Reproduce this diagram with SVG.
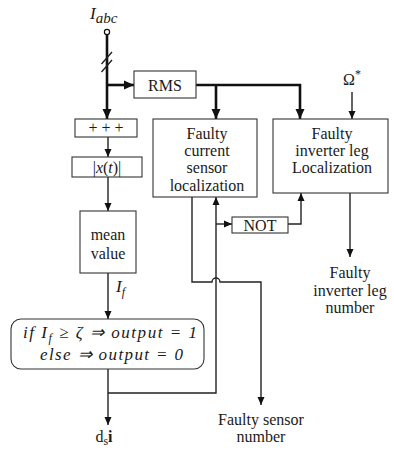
<svg xmlns="http://www.w3.org/2000/svg" width="394" height="452" viewBox="0 0 394 452">
<style>
  .box{fill:#fff;stroke:#333;stroke-width:1.1}
  .thin{fill:none;stroke:#222;stroke-width:1.4}
  .thick{fill:none;stroke:#111;stroke-width:2.6}
  .t{font-family:"Liberation Serif",serif;font-size:16px;fill:#1a1a1a;text-anchor:middle}
  .m{font-family:"Liberation Serif",serif;font-style:italic;font-size:17px;fill:#1a1a1a}
</style>
<defs>
  <marker id="a" markerUnits="userSpaceOnUse" markerWidth="8" markerHeight="8" refX="8" refY="4" orient="auto">
    <path d="M0,0.5 L8,4 L0,7.5 z" fill="#111"/>
  </marker>
  <marker id="A" markerUnits="userSpaceOnUse" markerWidth="10" markerHeight="10" refX="10" refY="5" orient="auto">
    <path d="M0,0.5 L10,5 L0,9.5 z" fill="#111"/>
  </marker>
</defs>

<g id="connectors">
  <line class="thick" x1="107" y1="34.5" x2="107" y2="119" marker-end="url(#A)"/>
  <path class="thin" d="M101.5,64 L112,52 M101.5,72 L112,60" stroke-width="1.3"/>
  <line class="thick" x1="107" y1="85" x2="134" y2="85" marker-end="url(#A)"/>
  <polyline class="thick" points="196,85 300,85 300,119" marker-end="url(#A)"/>
  <line class="thick" x1="216" y1="85" x2="216" y2="119" marker-end="url(#A)"/>
  <line class="thin" x1="352" y1="92" x2="352" y2="119" marker-end="url(#a)"/>
  <line class="thin" x1="108" y1="137" x2="108" y2="157" marker-end="url(#a)"/>
  <line class="thin" x1="108" y1="177" x2="108" y2="211" marker-end="url(#a)"/>
  <line class="thin" x1="108" y1="273" x2="108" y2="319" marker-end="url(#a)"/>
  <line class="thin" x1="108" y1="369" x2="108" y2="425" marker-end="url(#a)"/>
  <polyline class="thin" points="108,393 216,393 216,197" marker-end="url(#a)"/>
  <line class="thin" x1="216" y1="224" x2="232" y2="224" marker-end="url(#a)"/>
  <polyline class="thin" points="288,224 301,224 301,193" marker-end="url(#a)"/>
  <line class="thin" x1="350" y1="193" x2="350" y2="257" marker-end="url(#a)"/>
  <path class="thin" d="M192,197 L192,282 L212,282 A4,4 0 0 1 220,282 L261,282 L261,405" marker-end="url(#a)"/>
</g>

<g id="input">
  <text class="m" x="90" y="19" font-size="19">I<tspan font-size="15" dy="4">abc</tspan></text>
  <circle cx="107" cy="32" r="2.6" fill="#fff" stroke="#111" stroke-width="1.2"/>
</g>

<g id="rms">
  <rect class="box" x="134" y="71" width="62" height="27"/>
  <text class="t" x="165" y="90.5" font-size="17">RMS</text>
</g>

<g id="omega">
  <text class="t" x="352" y="85" font-size="18">Ω<tspan font-size="12" dy="-7">*</tspan></text>
</g>

<g id="sum">
  <rect class="box" x="75" y="119" width="62" height="18"/>
  <text class="t" x="106" y="133" font-size="17">+ + +</text>
</g>

<g id="abs">
  <rect class="box" x="72" y="157" width="70" height="20"/>
  <text class="t" x="107" y="172.5" font-size="18">|<tspan font-style="italic">x</tspan>(<tspan font-style="italic">t</tspan>)|</text>
</g>

<g id="mean">
  <rect class="box" x="80" y="211" width="56" height="62"/>
  <text class="t" x="108" y="240">mean</text>
  <text class="t" x="108" y="259">value</text>
  <text class="m" x="116" y="292" font-size="18">I<tspan font-size="12" dy="4">f</tspan></text>
</g>

<g id="decision">
  <rect class="box" x="11" y="319" width="193" height="50" rx="10" ry="10"/>
  <text class="m" x="23" y="338" textLength="174" lengthAdjust="spacing">if I<tspan font-size="12" dy="4">f</tspan><tspan dy="-4"> ≥ ζ  ⇒ output = 1</tspan></text>
  <text class="m" x="40" y="360" textLength="143" lengthAdjust="spacing">else  ⇒ output = 0</text>
</g>

<g id="output-ds">
  <text class="t" x="104" y="442" font-size="17">d<tspan font-size="12" dy="3">s</tspan><tspan dy="-3" font-weight="bold">i</tspan></text>
</g>

<g id="sensor-loc">
  <rect class="box" x="153" y="119" width="104" height="78"/>
  <text class="t" x="207" y="139">Faulty</text>
  <text class="t" x="207" y="156">current</text>
  <text class="t" x="207" y="173">sensor</text>
  <text class="t" x="207" y="191">localization</text>
</g>

<g id="leg-loc">
  <rect class="box" x="273" y="119" width="115" height="74"/>
  <text class="t" x="332" y="139">Faulty</text>
  <text class="t" x="332" y="156">inverter leg</text>
  <text class="t" x="332" y="173">Localization</text>
</g>

<g id="not">
  <rect class="box" x="232" y="217" width="56" height="16"/>
  <text class="t" x="260" y="230.5">NOT</text>
</g>

<g id="leg-number">
  <text class="t" x="350" y="278">Faulty</text>
  <text class="t" x="350" y="296">inverter leg</text>
  <text class="t" x="350" y="313">number</text>
</g>

<g id="sensor-number">
  <text class="t" x="261" y="425">Faulty sensor</text>
  <text class="t" x="261" y="442">number</text>
</g>
</svg>
